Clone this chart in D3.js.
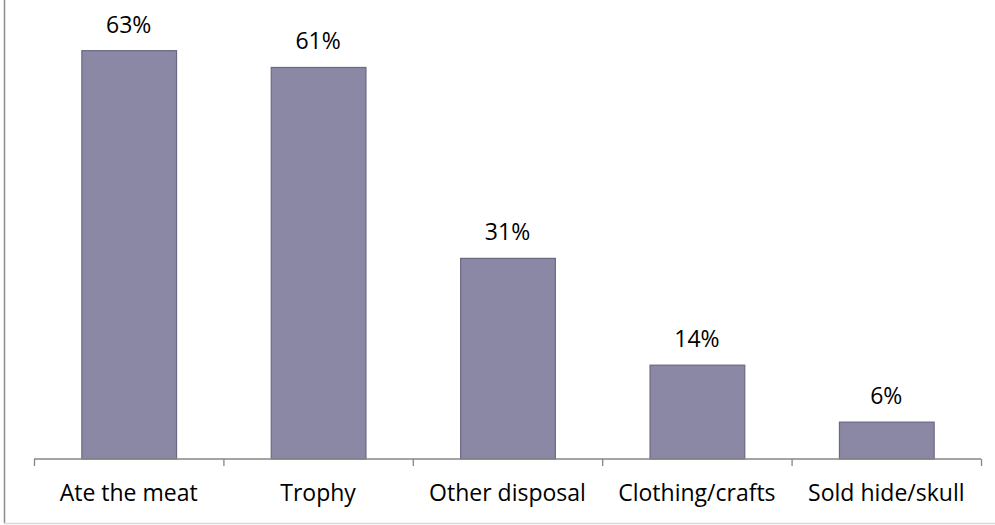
<!DOCTYPE html>
<html>
<head>
<meta charset="utf-8">
<script src="https://cdn.jsdelivr.net/npm/d3@7"></script>
<style>
  html, body { margin: 0; padding: 0; background: #fff; }
  svg { display: block; }
  text { font-family: "Open Sans", "Liberation Sans", sans-serif; fill: #000; }
</style>
</head>
<body>
<svg id="chart" width="995" height="525"></svg>
<script>
const categories = ["Ate the meat", "Trophy", "Other disposal", "Clothing/crafts", "Sold hide/skull"];
const values = [63.1, 60.5, 31.0, 14.5, 5.7];
const valueLabels = ["63%", "61%", "31%", "14%", "6%"];

const W = 995, H = 525;
const svg = d3.select("#chart");

// chart frame (left and bottom edges visible)
svg.append("line").attr("x1", 4.5).attr("x2", 4.5).attr("y1", 0).attr("y2", 523)
  .attr("stroke", "#8c8c8c").attr("stroke-width", 1.5);
svg.append("line").attr("x1", 4).attr("x2", W).attr("y1", 523.5).attr("y2", 523.5)
  .attr("stroke", "#d9d9d9").attr("stroke-width", 1.5);

const x = d3.scaleBand().domain(categories).range([34, 981])
  .paddingInner(0.5).paddingOuter(0.25);
const y = d3.scaleLinear().domain([0, 70]).range([459, 6]);

const step = x.step();

// bars
svg.selectAll("rect.bar").data(values).enter().append("rect")
  .attr("class", "bar")
  .attr("x", (d, i) => x(categories[i]) + 0.5)
  .attr("y", d => y(d))
  .attr("width", x.bandwidth())
  .attr("height", d => y(0) - y(d))
  .attr("fill", "#8b88a6")
  .attr("stroke", "#6b6883")
  .attr("stroke-width", 1.2);

// x axis line and boundary ticks
const axisG = svg.append("g");
axisG.append("line").attr("x1", x.range()[0]).attr("x2", x.range()[1])
  .attr("y1", y(0)).attr("y2", y(0))
  .attr("stroke", "#868686").attr("stroke-width", 1.3);
const tickPos = categories.map(c => x(c) - step * x.paddingOuter()).concat([x.range()[1]]);
axisG.selectAll("line.tick").data(tickPos).enter().append("line")
  .attr("class", "tick")
  .attr("x1", d => d + 0.5).attr("x2", d => d + 0.5)
  .attr("y1", y(0)).attr("y2", y(0) + 7)
  .attr("stroke", "#868686").attr("stroke-width", 1.3);

// category labels
svg.selectAll("text.cat").data(categories).enter().append("text")
  .attr("class", "cat")
  .attr("x", d => x(d) + x.bandwidth() / 2)
  .attr("y", 501)
  .attr("text-anchor", "middle")
  .style("font-size", "23px")
  .text(d => d);

// value labels
svg.selectAll("text.val").data(values).enter().append("text")
  .attr("class", "val")
  .attr("x", (d, i) => x(categories[i]) + x.bandwidth() / 2)
  .attr("y", d => y(d) - 18)
  .attr("text-anchor", "middle")
  .style("font-size", "23px")
  .text((d, i) => valueLabels[i]);
</script>
</body>
</html>
